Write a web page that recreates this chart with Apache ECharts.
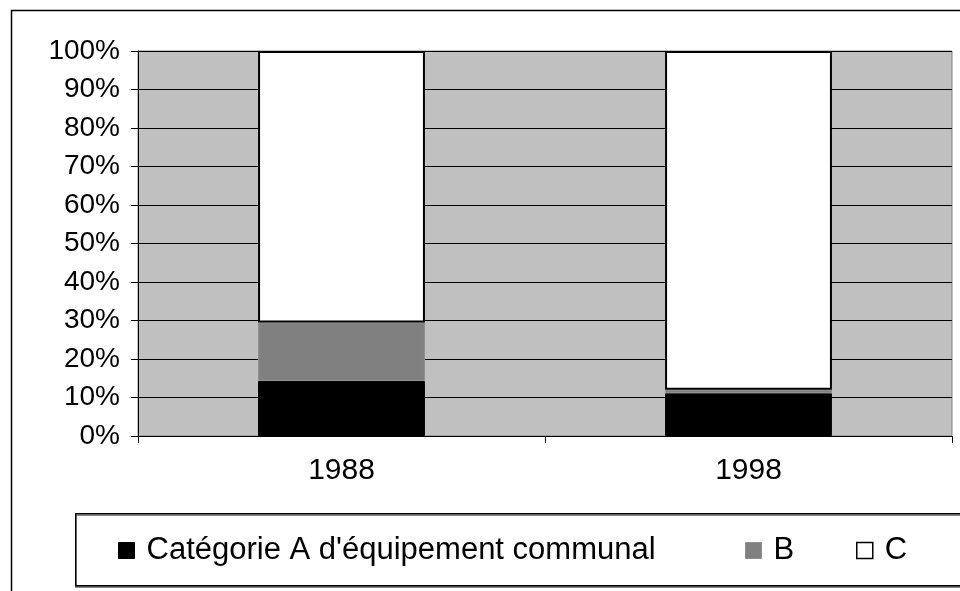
<!DOCTYPE html>
<html>
<head>
<meta charset="utf-8">
<script src="https://cdn.jsdelivr.net/npm/echarts@6/dist/echarts.min.js"></script>
<style>
html,body{margin:0;padding:0;background:#fff;}
#chart{width:960px;height:591px;}
</style>
</head>
<body>
<div id="chart"></div>
<script>
const categories = ['1988', '1998'];
const seriesNames = ["Catégorie A d'équipement communal", 'B', 'C'];
const valuesA = [14.3, 11.1];
const valuesB = [15.2, 0.9];
const valuesC = [70.5, 88.0];
const yTicks = [0, 10, 20, 30, 40, 50, 60, 70, 80, 90, 100];

const FONT = 'Liberation Sans';
const chart = echarts.init(document.getElementById('chart'), null, {renderer: 'canvas'});

function legendFor(name, left, style) {
  return {
    show: true,
    left: left,
    top: 535,
    padding: 0,
    itemWidth: 16,
    itemHeight: 16,
    itemGap: 0,
    icon: 'rect',
    selectedMode: false,
    data: [{name: name, icon: 'rect', itemStyle: style}],
    textStyle: {fontFamily: FONT, fontSize: 31, color: '#000', padding: [0, 0, 0, 7]}
  };
}

const option = {
  animation: false,
  backgroundColor: '#fff',
  graphic: [
    {type: 'rect', left: 9, top: 8, shape: {x: 0, y: 0, width: 1000, height: 700},
      style: {fill: 'none', stroke: '#000', lineWidth: 1.5}, silent: true, z: -10},
    {type: 'rect', left: 75, top: 513, shape: {x: 0, y: 0, width: 1000, height: 72},
      style: {fill: '#fff', stroke: '#000', lineWidth: 1.5, shadowColor: '#888', shadowOffsetY: 1.5, shadowOffsetX: 0}, silent: true, z: -5}
  ],
  legend: [
    legendFor(seriesNames[0], 118, {color: '#000', borderColor: '#000', borderWidth: 1}),
    legendFor(seriesNames[1], 745, {color: '#808080', borderColor: '#909090', borderWidth: 1}),
    legendFor(seriesNames[2], 856, {color: '#fff', borderColor: '#000', borderWidth: 1.5})
  ],
  grid: {
    left: 138, top: 51, width: 814, height: 385,
    show: true, backgroundColor: '#c0c0c0', borderColor: '#808080', borderWidth: 1
  },
  xAxis: {
    type: 'category',
    data: categories,
    boundaryGap: true,
    axisLine: {show: true, lineStyle: {color: '#000', width: 1}},
    axisTick: {show: true, length: 7, inside: false, alignWithLabel: false, lineStyle: {color: '#000'}},
    axisLabel: {fontFamily: FONT, fontSize: 30, color: '#000', margin: 20},
    splitLine: {show: false}
  },
  yAxis: {
    type: 'value',
    min: yTicks[0],
    max: yTicks[yTicks.length - 1],
    interval: 10,
    axisLine: {show: true, lineStyle: {color: '#000', width: 1}},
    axisTick: {show: true, length: 7, inside: false, lineStyle: {color: '#000'}},
    axisLabel: {fontFamily: FONT, fontSize: 28, color: '#000', margin: 18, formatter: '{value}%'},
    splitLine: {show: true, lineStyle: {color: '#000', width: 1}}
  },
  series: [
    {name: seriesNames[0], type: 'bar', stack: 'total', data: valuesA, barWidth: '41%',
      itemStyle: {color: '#000', borderColor: '#000', borderWidth: 1}},
    {name: seriesNames[1], type: 'bar', stack: 'total', data: valuesB, barWidth: '41%',
      itemStyle: {color: '#808080', borderColor: '#909090', borderWidth: 1}},
    {name: seriesNames[2], type: 'bar', stack: 'total', data: valuesC, barWidth: '41%',
      itemStyle: {color: '#fff', borderColor: '#000', borderWidth: 2}}
  ]
};
chart.setOption(option);
</script>
</body>
</html>
